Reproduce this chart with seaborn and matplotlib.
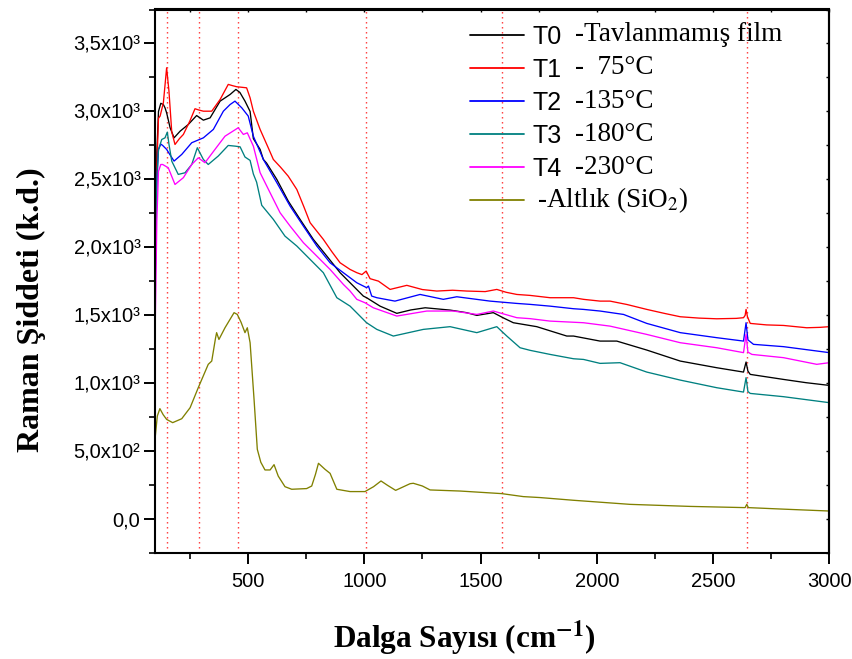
import math
import numpy as np
import pandas as pd
import matplotlib
matplotlib.use("Agg")
import matplotlib.pyplot as plt
from matplotlib.lines import Line2D
from matplotlib.ticker import MultipleLocator, FuncFormatter
import seaborn as sns

# ---------------- data ----------------
series_names = ["T0", "T1", "T2", "T3", "T4", "Altlik"]
descriptions = ["-Tavlanmamış film", "-  75°C", "-135°C", "-180°C", "-230°C", "-Altlık (SiO$_2$)"]
colors = ["#000000", "#ff0000", "#0000ff", "#008080", "#ff00ff", "#808000"]

t0_x = [100, 108, 115, 125, 136, 143, 150, 165, 182, 208, 243, 279, 308, 337, 380, 423, 448, 465, 487, 509, 523,
        552, 566, 580, 624, 673, 724, 781, 839, 896, 939, 996, 1010, 1068, 1140, 1200, 1262, 1369, 1440, 1484,
        1555, 1600, 1641, 1742, 1871, 1900, 2014, 2086, 2215, 2359, 2516, 2631, 2642, 2650, 2660, 2803, 2900, 3000]
t0_y = [1800, 2700, 3000, 3060, 3051, 3027, 2990, 2880, 2806, 2855, 2904, 2970, 2936, 2953, 3076, 3125, 3162, 3140,
        3076, 3000, 2800, 2721, 2647, 2620, 2500, 2341, 2206, 2059, 1936, 1814, 1740, 1642, 1630, 1568, 1515, 1540,
        1556, 1539, 1520, 1500, 1520, 1480, 1446, 1417, 1348, 1348, 1311, 1311, 1245, 1164, 1115, 1083, 1157, 1090,
        1066, 1029, 1005, 985]

t1_x = [100, 108, 115, 122, 136, 150, 160, 172, 186, 205, 222, 250, 272, 290, 308, 344, 380, 415, 433, 451, 494,
        509, 523, 552, 587, 609, 640, 673, 710, 740, 767, 824, 860, 896, 939, 968, 990, 1008, 1025, 1061, 1111,
        1183, 1250, 1312, 1380, 1441, 1520, 1570, 1610, 1656, 1713, 1799, 1900, 1943, 2014, 2057, 2130, 2215,
        2290, 2359, 2440, 2516, 2600, 2631, 2638, 2642, 2648, 2660, 2730, 2803, 2903, 2960, 3000]
t1_y = [1700, 2600, 2950, 2966, 3064, 3321, 3150, 2850, 2757, 2800, 2831, 2930, 3020, 3010, 3002, 3002, 3088, 3199,
        3190, 3182, 3174, 3100, 3002, 2868, 2733, 2647, 2590, 2524, 2426, 2300, 2182, 2059, 1970, 1887, 1838, 1814,
        1800, 1826, 1770, 1752, 1691, 1721, 1690, 1679, 1685, 1679, 1675, 1691, 1670, 1654, 1647, 1630, 1630, 1618,
        1605, 1605, 1580, 1544, 1515, 1490, 1480, 1475, 1478, 1483, 1500, 1544, 1490, 1441, 1430, 1426, 1409, 1412,
        1417]

t2_x = [100, 108, 115, 125, 133, 150, 165, 182, 215, 258, 308, 351, 394, 423, 444, 473, 501, 523, 566, 624, 681,
        738, 796, 853, 910, 968, 1010, 1018, 1032, 1054, 1132, 1240, 1340, 1398, 1541, 1656, 1713, 1799, 1900,
        1943, 2014, 2115, 2215, 2359, 2516, 2631, 2642, 2650, 2674, 2803, 3000]
t2_y = [1650, 2500, 2720, 2760, 2750, 2721, 2680, 2635, 2684, 2770, 2806, 2868, 3002, 3051, 3076, 3027, 2966, 2818,
        2647, 2476, 2304, 2157, 2010, 1887, 1814, 1740, 1704, 1716, 1642, 1630, 1605, 1654, 1618, 1637, 1605, 1588,
        1581, 1568, 1549, 1544, 1532, 1507, 1441, 1373, 1336, 1311, 1446, 1320, 1287, 1270, 1226]

t3_x = [100, 108, 115, 129, 143, 153, 160, 172, 200, 229, 258, 282, 308, 329, 372, 415, 444, 466, 487, 509, 523,
        537, 559, 609, 659, 710, 767, 824, 882, 939, 1010, 1054, 1125, 1254, 1369, 1484, 1570, 1613, 1670, 1713,
        1799, 1900, 1943, 2014, 2100, 2215, 2359, 2516, 2631, 2642, 2650, 2660, 2803, 3000]
t3_y = [1750, 2500, 2720, 2794, 2806, 2848, 2760, 2635, 2537, 2549, 2610, 2733, 2647, 2610, 2672, 2750, 2745, 2740,
        2665, 2640, 2540, 2480, 2310, 2206, 2083, 2010, 1912, 1814, 1630, 1568, 1446, 1397, 1348, 1397, 1417, 1373,
        1417, 1348, 1262, 1243, 1213, 1181, 1176, 1147, 1152, 1083, 1024, 968, 936, 1042, 940, 926, 902, 858]

t4_x = [100, 108, 115, 125, 133, 157, 186, 222, 258, 286, 315, 358, 401, 458, 480, 497, 523, 552, 595, 638, 681,
        738, 796, 853, 910, 939, 968, 1003, 1039, 1140, 1269, 1383, 1484, 1555, 1656, 1713, 1799, 1943, 2057,
        2215, 2359, 2516, 2631, 2642, 2650, 2667, 2803, 2946, 3000]
t4_y = [1320, 2200, 2560, 2610, 2610, 2586, 2463, 2513, 2610, 2659, 2623, 2721, 2818, 2880, 2831, 2843, 2745, 2550,
        2402, 2255, 2157, 2035, 1936, 1838, 1728, 1679, 1618, 1593, 1556, 1495, 1532, 1532, 1507, 1532, 1483, 1476,
        1458, 1446, 1421, 1360, 1299, 1262, 1226, 1360, 1230, 1213, 1189, 1140, 1152]

sub_x = [100, 110, 121, 135, 150, 176, 215, 251, 286, 329, 344, 360, 365, 375, 401, 440, 454, 470, 487, 497, 509,
         526, 540, 555, 573, 595, 612, 630, 659, 688, 752, 774, 790, 803, 831, 853, 882, 939, 1003, 1040, 1072,
         1100, 1135, 1197, 1211, 1250, 1283, 1412, 1591, 1684, 1756, 1900, 2143, 2400, 2638, 2645, 2652, 2800, 3000]
sub_y = [588, 760, 814, 770, 735, 711, 740, 821, 968, 1140, 1164, 1330, 1373, 1323, 1409, 1520, 1507, 1450, 1373,
         1409, 1299, 882, 515, 420, 363, 363, 402, 318, 240, 221, 226, 245, 330, 412, 368, 338, 221, 204, 204, 240,
         282, 250, 213, 262, 265, 245, 216, 208, 189, 167, 160, 140, 110, 95, 86, 110, 86, 75, 61]

ref_lines = [150, 288, 455, 1006, 1591, 2645]

x_ticks = [500, 1000, 1500, 2000, 2500, 3000]
y_ticks = [0, 500, 1000, 1500, 2000, 2500, 3000, 3500]

all_x = [t0_x, t1_x, t2_x, t3_x, t4_x, sub_x]
all_y = [t0_y, t1_y, t2_y, t3_y, t4_y, sub_y]

frames = []
for name, xs, ys in zip(series_names, all_x, all_y):
    frames.append(pd.DataFrame({"x": xs, "y": ys, "series": name}))
df = pd.concat(frames, ignore_index=True)
palette = dict(zip(series_names, colors))

# ---------------- style ----------------
sns.set_theme(style="ticks")
plt.rcParams["font.family"] = ["Liberation Sans", "DejaVu Sans"]
plt.rcParams["mathtext.fontset"] = "stix"
for k in ["text.color", "axes.labelcolor", "xtick.color", "ytick.color", "axes.edgecolor"]:
    plt.rcParams[k] = "black"

W, H = 853, 659
fig = plt.figure(figsize=(W / 100, H / 100), dpi=100)
ax = fig.add_axes([155 / W, 1 - 553.3 / H, (829.3 - 155) / W, (553.3 - 9.5) / H])

for v in ref_lines:
    ax.axvline(v, color="#ff3030", lw=1.0, ls=(0, (1, 2.6)), zorder=0.5)

sns.lineplot(data=df, x="x", y="y", hue="series", hue_order=series_names, palette=palette,
             estimator=None, sort=False, linewidth=0.95, legend=False, ax=ax)

ax.set_xlim(100, 3000)
ax.set_ylim(-250, 3750)
ax.set_xticks(x_ticks)
ax.set_yticks(y_ticks)
ax.xaxis.set_minor_locator(MultipleLocator(250))
ax.yaxis.set_minor_locator(MultipleLocator(250))

sup = {2: "²", 3: "³"}


def yfmt(v, pos):
    if v == 0:
        return "0,0"
    e = int(math.floor(math.log10(abs(v))))
    m = v / 10 ** e
    return f"{m:.1f}".replace(".", ",") + "x10" + sup.get(e, str(e))


ax.yaxis.set_major_formatter(FuncFormatter(yfmt))

for s in ax.spines.values():
    s.set_linewidth(1.5)
ax.tick_params(axis="both", which="major", direction="out", length=8, width=1.4, labelsize=14.5)
ax.tick_params(axis="both", which="minor", direction="out", length=4, width=1.2)
ax.tick_params(axis="x", which="major", pad=5.5)
ax.tick_params(axis="y", which="major", pad=2.5)

# inner ticks on top and right
top = ax.secondary_xaxis("top")
top.set_xticks(x_ticks)
top.xaxis.set_minor_locator(MultipleLocator(250))
top.tick_params(which="both", direction="in", length=2.5, width=1.0, labeltop=False)
top.spines["top"].set_linewidth(1.5)
right = ax.secondary_yaxis("right")
right.set_yticks(y_ticks)
right.yaxis.set_minor_locator(MultipleLocator(250))
right.tick_params(which="both", direction="in", length=2.5, width=1.0, labelright=False)
right.spines["right"].set_linewidth(1.5)

ax.set_xlabel(r"Dalga Sayısı (cm$^{\mathbf{-1}}$)", family="Liberation Serif", fontweight="bold", fontsize=22.5)
ax.set_ylabel("Raman Şiddeti (k.d.)", family="Liberation Serif", fontweight="bold", fontsize=23)
ax.xaxis.set_label_coords((464 - 155) / (829.3 - 155), (553.3 - 618) / (553.3 - 9.5))
ax.yaxis.set_label_coords((46 - 155) / (829.3 - 155), (553.3 - 310) / (553.3 - 9.5))

# legend
handles = [Line2D([], [], color=c, lw=1.3) for c in colors]
labels = series_names[:5] + [""]
leg = ax.legend(handles, labels, loc="upper left", bbox_to_anchor=(470 / W, 1 - 24.5 / H),
                bbox_transform=fig.transFigure, frameon=False, borderpad=0, borderaxespad=0,
                handlelength=2.15, handletextpad=0.36, labelspacing=0.365,
                prop={"family": "Liberation Sans", "size": 18})

fig.canvas.draw()
renderer = fig.canvas.get_renderer()
leg_lines = leg.get_lines()
for i, (line, desc) in enumerate(zip(leg_lines, descriptions)):
    bb = line.get_window_extent(renderer)
    yc = (bb.y0 + bb.y1) / 2
    xpix = 575 if i < 5 else 537
    fig.text(xpix / W, yc / fig.bbox.height, desc, family="Liberation Serif", fontsize=19.5,
             va="center", ha="left")

fig.savefig("out.png", dpi=100)
